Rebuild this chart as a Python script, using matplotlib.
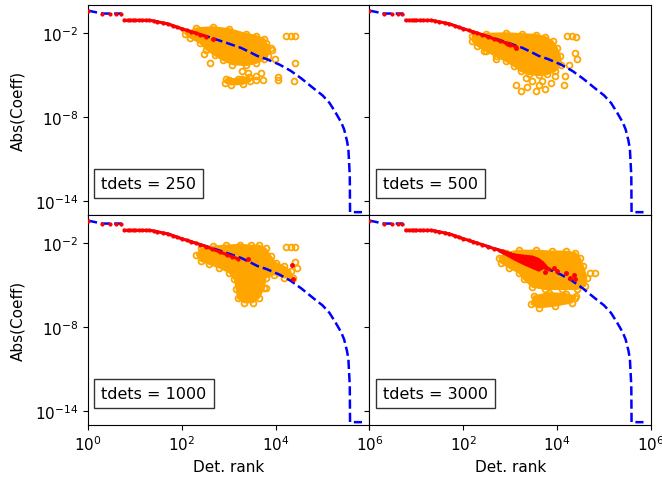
import matplotlib
matplotlib.use("Agg")
import matplotlib.pyplot as plt
from matplotlib.ticker import NullLocator

# ---------------- data ----------------
tdets = [250, 500, 1000, 3000]

# sorted |coefficient| curve (identical in every panel)
curve_rank = [1, 2, 5, 6, 21, 47, 89, 204, 363, 891, 1820, 2750, 4070, 6310,
              12000, 20900, 35500, 64600, 100000, 141000, 190500, 251000,
              288000, 331000, 355000, 380000, 385000, 692000]
curve_coeff = [0.40, 0.245, 0.245, 0.081, 0.081, 0.048, 0.023, 9.5e-3, 5.4e-3,
               2.0e-3, 8.7e-4, 4.5e-4, 2.3e-4, 1.4e-4, 5.6e-5, 2.0e-5, 5.6e-6,
               1.1e-6, 3.5e-7, 1.0e-7, 2.0e-8, 4.0e-9, 1.3e-9, 2.0e-10,
               5.0e-11, 6.3e-13, 1.6e-15, 1.6e-15]

# selected determinants common to every panel
sel_head_rank = [1, 2, 3, 4, 5]
sel_head_coeff = [0.40, 0.245, 0.245, 0.245, 0.245]
sel_body_rank = [6, 7, 8, 9, 10, 12, 14, 17, 20, 25, 30, 40, 50, 65, 80, 100,
                 130, 160, 200, 250, 330]
sel_body_coeff = [0.081, 0.081, 0.081, 0.081, 0.081, 0.081, 0.081, 0.081,
                  0.081, 0.072, 0.064, 0.053, 0.045, 0.034, 0.026, 0.0205,
                  0.0155, 0.0125, 0.0098, 0.0078, 0.0056]

# selected determinants, continuation per panel
tail_rank_250 = []
tail_coeff_250 = []
tail_rank_500 = [450, 600, 800, 1000, 1350]
tail_coeff_500 = [3.8e-3, 2.7e-3, 2.0e-3, 1.5e-3, 1.0e-3]
tail_rank_1000 = [450, 650, 900, 1200, 1550]
tail_coeff_1000 = [3.6e-3, 2.3e-3, 1.5e-3, 1.05e-3, 7.5e-4]
tail_rank_3000 = [450, 700, 1000, 1500, 2200, 3300, 4500, 6600]
tail_coeff_3000 = [4.0e-3, 2.6e-3, 1.7e-3, 1.07e-3, 6.3e-4, 3.3e-4, 2.1e-4, 1.35e-4]

# isolated selected determinants
extra_rank_250 = [457]
extra_coeff_250 = [3.9e-3]
extra_rank_500 = [880, 1350]
extra_coeff_500 = [1.6e-3, 8.9e-4]
extra_rank_1000 = [2630, 22400, 22900]
extra_coeff_1000 = [7.8e-4, 2.6e-4, 2.5e-5]
extra_rank_3000 = [8510, 10000, 15100, 19100, 22400, 24500, 5620]
extra_coeff_3000 = [1.7e-4, 9.8e-5, 7.6e-5, 3.3e-5, 5.6e-5, 2.5e-5, 8.7e-5]

# dense group of selected determinants (tdets = 3000)
wedge_rank_3000 = [560, 1000, 1995, 2950, 3980, 5010, 6610, 5010, 4070, 2820,
                   1995, 1260, 794, 560]
wedge_coeff_3000 = [2.9e-3, 1.8e-3, 1.3e-3, 1.15e-3, 7.9e-4, 4.5e-4, 1.6e-4,
                    1.5e-4, 1.0e-4, 1.7e-4, 2.8e-4, 6.0e-4, 1.4e-3, 2.5e-3]

# outlines of the dense model-coefficient clouds
blob_rank_250 = [115, 204, 457, 1020, 2340, 3800, 5750, 6170, 7940, 6760,
                 5750, 3800, 2340, 1200, 741, 501, 331, 240, 148]
blob_coeff_250 = [9.1e-3, 2.3e-2, 2.75e-2, 2.0e-2, 9.1e-3, 6.6e-3, 3.9e-3,
                  2.0e-3, 8.7e-4, 2.2e-4, 1.3e-4, 6.8e-5, 4.8e-5, 5.6e-5,
                  1.15e-4, 2.5e-4, 6.6e-4, 2.0e-3, 4.6e-3]
low_rank_250 = [871, 1580, 2750, 2880, 2000, 1120, 851]
low_coeff_250 = [5.0e-6, 5.6e-6, 7.1e-6, 3.5e-6, 2.2e-6, 2.0e-6, 2.8e-6]

blob_rank_500 = [155, 302, 794, 1820, 3470, 5620, 8130, 10000, 11700, 12300,
                 9120, 6170, 4070, 2510, 1660, 1200, 794, 490, 302, 200, 155]
blob_coeff_500 = [6.6e-3, 9.1e-3, 1.02e-2, 8.7e-3, 7.8e-3, 5.4e-3, 2.6e-3,
                  8.7e-4, 2.2e-4, 5.6e-5, 1.9e-5, 1.1e-5, 9.3e-6, 1.1e-5,
                  1.9e-5, 4.3e-5, 9.8e-5, 2.2e-4, 5.0e-4, 1.15e-3, 2.6e-3]
low_rank_500 = []
low_coeff_500 = []

blob_rank_1000 = [204, 257, 457, 871, 1700, 3020, 4470, 6170, 7940, 10200,
                  15100, 20900, 22900, 15100, 9330, 6170, 5750, 4470, 3240,
                  2140, 1550, 1450, 1320, 1020, 631, 389, 257]
blob_coeff_1000 = [1.5e-3, 4.1e-3, 5.9e-3, 6.9e-3, 7.8e-3, 6.9e-3, 6.9e-3,
                   4.1e-3, 1.15e-3, 3.9e-4, 2.2e-4, 9.8e-5, 3.0e-5, 3.3e-5,
                   5.6e-5, 3.3e-5, 6.5e-6, 1.2e-6, 5.5e-7, 5.5e-7, 1.1e-6,
                   4.9e-6, 2.5e-5, 7.6e-5, 1.7e-4, 3.0e-4, 5.0e-4]
low_rank_1000 = []
low_coeff_1000 = []

blob_rank_3000 = [575, 794, 1510, 3470, 7760, 15100, 24500, 30900, 36300,
                  42700, 39800, 26300, 12600, 5620, 2950, 1950, 1510, 933, 631]
blob_coeff_3000 = [8.7e-4, 2.0e-3, 3.0e-3, 3.0e-3, 2.6e-3, 2.6e-3, 2.0e-3,
                   8.7e-4, 2.2e-4, 3.3e-5, 8.3e-6, 4.9e-6, 4.9e-6, 4.9e-6,
                   7.1e-6, 2.5e-5, 7.6e-5, 1.7e-4, 3.9e-4]
low_rank_3000 = [3160, 6610, 15100, 25100, 20900, 9120, 4070, 2820]
low_coeff_3000 = [1.6e-6, 2.8e-6, 2.4e-6, 1.6e-6, 5.5e-7, 3.2e-7, 2.4e-7, 4.2e-7]

# scattered model coefficients outside the dense clouds
pts_rank_250 = [295, 407, 1900, 2630, 3800, 4900, 3720, 5250, 9770, 11000,
                11000, 25700, 24500, 17000, 20900, 26300, 8510, 1000, 1900]
pts_coeff_250 = [2.95e-4, 7.6e-5, 1.9e-5, 1.45e-5, 8.3e-6, 1.45e-5, 4.4e-6,
                 4.4e-6, 1.3e-4, 7.1e-6, 4.1e-6, 7.6e-5, 3.7e-6, 5.9e-3,
                 5.9e-3, 5.9e-3, 5.9e-4, 4.5e-6, 5.0e-6]
pts_rank_500 = [16200, 20900, 25100, 24500, 26300, 17800, 14500, 9120, 13800,
                1350, 1660, 2290, 3470, 4070, 5620, 7240, 4790, 2950, 2140,
                490, 275]
pts_coeff_500 = [5.9e-3, 5.9e-3, 5.4e-3, 3.9e-4, 1.3e-4, 5.6e-5, 8.3e-6,
                 8.3e-6, 2.1e-6, 2.1e-6, 7.1e-7, 1.45e-6, 7.1e-7, 1.8e-6,
                 9.3e-7, 2.5e-6, 3.7e-6, 3.7e-6, 6.5e-6, 1.45e-4, 5.0e-4]
pts_rank_1000 = [16600, 20900, 26300, 26300, 28200, 6170]
pts_coeff_1000 = [5.0e-3, 5.0e-3, 5.0e-3, 4.6e-4, 1.7e-4, 6.5e-6]
pts_rank_3000 = [51300, 64600, 24500, 12600]
pts_coeff_3000 = [7.6e-5, 7.6e-5, 1.2e-6, 1.5e-6]

x_ticks = [1, 1e2, 1e4, 1e6]
y_ticks = [1e-14, 1e-8, 1e-2]

# ---------------- figure ----------------
plt.rcParams['font.family'] = ['DejaVu Sans']
plt.rcParams['font.size'] = 11

fig, axes = plt.subplots(2, 2, figsize=(6.62, 4.81), dpi=100)
fig.subplots_adjust(left=0.1329, right=0.9834, top=0.9875, bottom=0.1143,
                    wspace=0, hspace=0)

panels = [
    (tail_rank_250, tail_coeff_250, extra_rank_250, extra_coeff_250,
     blob_rank_250, blob_coeff_250, low_rank_250, low_coeff_250,
     pts_rank_250, pts_coeff_250, [], []),
    (tail_rank_500, tail_coeff_500, extra_rank_500, extra_coeff_500,
     blob_rank_500, blob_coeff_500, low_rank_500, low_coeff_500,
     pts_rank_500, pts_coeff_500, [], []),
    (tail_rank_1000, tail_coeff_1000, extra_rank_1000, extra_coeff_1000,
     blob_rank_1000, blob_coeff_1000, low_rank_1000, low_coeff_1000,
     pts_rank_1000, pts_coeff_1000, [], []),
    (tail_rank_3000, tail_coeff_3000, extra_rank_3000, extra_coeff_3000,
     blob_rank_3000, blob_coeff_3000, low_rank_3000, low_coeff_3000,
     pts_rank_3000, pts_coeff_3000, wedge_rank_3000, wedge_coeff_3000),
]

circ = dict(ls='none', marker='o', ms=4.2, mfc='none', mec='orange', mew=1.3,
            zorder=2)

for i, (ax, t, p) in enumerate(zip(axes.flat, tdets, panels)):
    (tr, tc, er, ec, br, bc, lr, lc, pr, pc, wr, wc) = p
    ax.set_xscale('log')
    ax.set_yscale('log')
    # model coefficient clouds
    ax.fill(br, bc, color='orange', lw=1.0, zorder=1)
    ax.plot(br, bc, **circ)
    if lr:
        ax.fill(lr, lc, color='orange', lw=1.0, zorder=1)
        ax.plot(lr, lc, **circ)
    ax.plot(pr, pc, **circ)
    # sorted coefficients
    ax.plot(curve_rank, curve_coeff, '--', color='blue', lw=1.8, zorder=3)
    # selected determinants
    ax.plot(sel_head_rank, sel_head_coeff, '.', color='red', ms=4, zorder=4)
    ax.plot(sel_body_rank + tr, sel_body_coeff + tc, '-', color='red', lw=2.2,
            marker='.', ms=4, zorder=4)
    if er:
        ax.plot(er, ec, '.', color='red', ms=5, zorder=4)
    if wr:
        ax.fill(wr, wc, color='red', lw=1.0, zorder=4)

    ax.set_xlim(1, 1e6)
    ax.set_ylim(1e-15, 1)
    ax.set_xticks(x_ticks)
    ax.set_yticks(y_ticks)
    ax.xaxis.set_minor_locator(NullLocator())
    ax.yaxis.set_minor_locator(NullLocator())

    row, col = divmod(i, 2)
    if row == 0:
        ax.tick_params(labelbottom=False)
    else:
        ax.set_xlabel('Det. rank')
        if col == 1:
            ax.set_xticklabels(['', '$\\mathdefault{10^{2}}$',
                                '$\\mathdefault{10^{4}}$',
                                '$\\mathdefault{10^{6}}$'])
    if col == 1:
        ax.tick_params(labelleft=False)
    else:
        ax.set_ylabel('Abs(Coeff)', labelpad=7)

    ax.text(0.047, 0.115, f'tdets = {t}', transform=ax.transAxes,
            fontsize=11.5, ha='left', va='bottom', zorder=6,
            bbox=dict(boxstyle='square,pad=0.45', fc='white', ec='#333333',
                      lw=1.0))

fig.savefig('out.png', dpi=100)
